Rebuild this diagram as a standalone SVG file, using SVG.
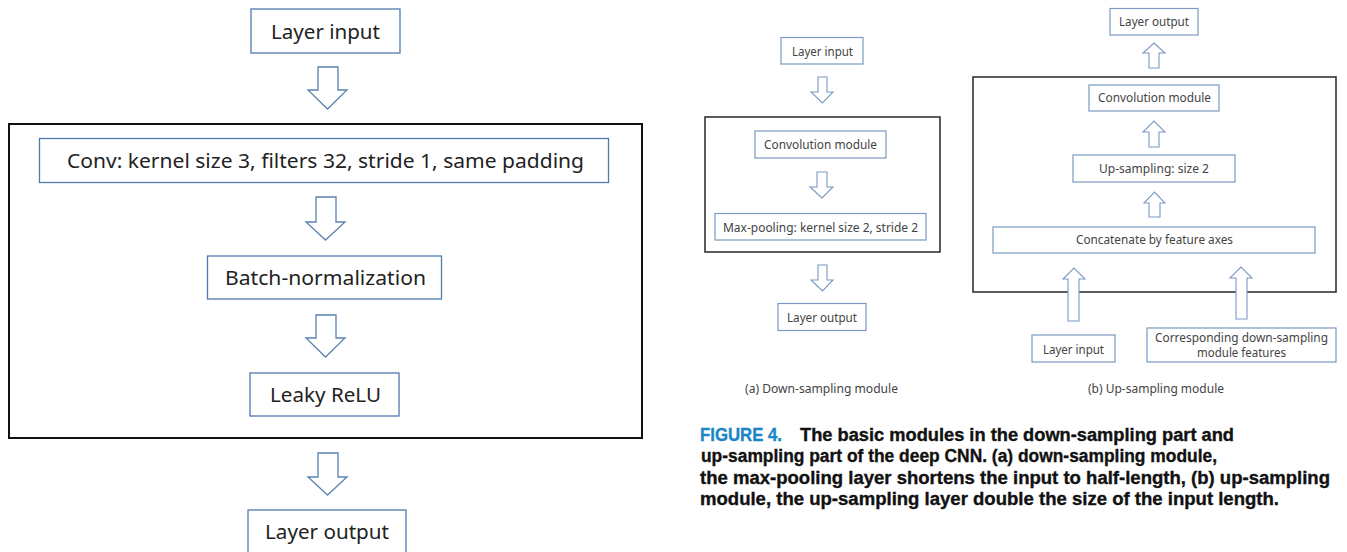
<svg xmlns="http://www.w3.org/2000/svg" width="1347" height="552" viewBox="0 0 1347 552">
<style>
.bg{fill:#ffffff}
.lbox{fill:#ffffff;stroke:#4f7aab;stroke-width:1.3}
.rbox{fill:#ffffff;stroke:#7b99c2;stroke-width:1.2}
.outerL{fill:none;stroke:#111111;stroke-width:2}
.outerR{fill:none;stroke:#333333;stroke-width:1.6}
.arrL{fill:#ffffff;stroke:#5a82b2;stroke-width:1.3;stroke-linejoin:miter}
.arrR{fill:#ffffff;stroke:#7b99c2;stroke-width:1.1;stroke-linejoin:miter}
.lt{font-family:"Noto Sans","Open Sans","DejaVu Sans",sans-serif;font-size:20px;fill:#222222;text-anchor:middle}
.rt{font-family:"Noto Sans","Open Sans","DejaVu Sans",sans-serif;font-size:12px;fill:#444444;text-anchor:middle}
.cap{font-family:"Liberation Sans Narrow","Liberation Sans",Arial,sans-serif;font-size:18px;font-weight:bold;fill:#111111;stroke:#111111;stroke-width:0.35}
.capb{fill:#1b86c6;stroke:#1b86c6}
</style>
<rect class="bg" x="0" y="0" width="1347" height="552"/>

<g id="left-module">
  <rect class="outerL" x="9" y="124" width="633" height="314"/>
</g>
<g id="left-layer-input"><rect class="lbox" x="251" y="9" width="149" height="44"/><text class="lt" x="325.5" y="39" textLength="109" lengthAdjust="spacingAndGlyphs">Layer input</text></g>
<g id="left-conv"><rect class="lbox" x="39.5" y="138.5" width="569" height="44"/><text class="lt" x="325.5" y="168" textLength="517" lengthAdjust="spacingAndGlyphs">Conv: kernel size 3, filters 32, stride 1, same padding</text></g>
<g id="left-bn"><rect class="lbox" x="207.5" y="256" width="234" height="43"/><text class="lt" x="325.5" y="285" textLength="201" lengthAdjust="spacingAndGlyphs">Batch-normalization</text></g>
<g id="left-relu"><rect class="lbox" x="250" y="373" width="149" height="43"/><text class="lt" x="325.5" y="402" textLength="111" lengthAdjust="spacingAndGlyphs">Leaky ReLU</text></g>
<g id="left-layer-output"><rect class="lbox" x="248" y="510" width="158" height="50"/><text class="lt" x="327" y="539" textLength="124" lengthAdjust="spacingAndGlyphs">Layer output</text></g>

<g id="down-module">
  <rect class="outerR" x="705" y="117" width="235" height="135"/>
</g>
<g id="a-layer-input"><rect class="rbox" x="781" y="37.5" width="82" height="26.5"/><text class="rt" x="822.5" y="56" textLength="61" lengthAdjust="spacingAndGlyphs">Layer input</text></g>
<g id="a-conv"><rect class="rbox" x="755" y="131" width="131" height="27"/><text class="rt" x="820.5" y="149" textLength="113" lengthAdjust="spacingAndGlyphs">Convolution module</text></g>
<g id="a-maxpool"><rect class="rbox" x="715" y="213.5" width="211" height="26.5"/><text class="rt" x="820.5" y="232" textLength="195" lengthAdjust="spacingAndGlyphs">Max-pooling: kernel size 2, stride 2</text></g>
<g id="a-layer-output"><rect class="rbox" x="778" y="303.5" width="88" height="27"/><text class="rt" x="822" y="322" textLength="70" lengthAdjust="spacingAndGlyphs">Layer output</text></g>
<text class="rt" x="821.5" y="393" textLength="153" lengthAdjust="spacingAndGlyphs">(a) Down-sampling module</text>

<g id="up-module">
  <rect class="outerR" x="973" y="77" width="363" height="215"/>
</g>
<g id="b-layer-output"><rect class="rbox" x="1110" y="8.5" width="88" height="26.5"/><text class="rt" x="1154" y="26" textLength="70" lengthAdjust="spacingAndGlyphs">Layer output</text></g>
<g id="b-conv"><rect class="rbox" x="1089" y="85" width="130" height="26"/><text class="rt" x="1154.5" y="102" textLength="113" lengthAdjust="spacingAndGlyphs">Convolution module</text></g>
<g id="b-upsample"><rect class="rbox" x="1073" y="155" width="162" height="27"/><text class="rt" x="1154" y="173" textLength="110" lengthAdjust="spacingAndGlyphs">Up-sampling: size 2</text></g>
<g id="b-concat"><rect class="rbox" x="993" y="227" width="322" height="26"/><text class="rt" x="1154.5" y="244" textLength="157" lengthAdjust="spacingAndGlyphs">Concatenate by feature axes</text></g>
<g id="b-layer-input"><rect class="rbox" x="1032" y="335" width="83" height="27"/><text class="rt" x="1073.5" y="354" textLength="61" lengthAdjust="spacingAndGlyphs">Layer input</text></g>
<g id="b-corresponding"><rect class="rbox" x="1147" y="328" width="189" height="34"/><text class="rt" x="1241.5" y="342" textLength="173" lengthAdjust="spacingAndGlyphs">Corresponding down-sampling</text><text class="rt" x="1241.5" y="357" textLength="89" lengthAdjust="spacingAndGlyphs">module features</text></g>
<text class="rt" x="1156" y="393" textLength="136" lengthAdjust="spacingAndGlyphs">(b) Up-sampling module</text>

<g id="connectors">
  <path class="arrL" d="M318,67 H338 V90 H347 L327.5,109 L308,90 H318 Z"/>
  <path class="arrL" d="M316,197 H336 V222 H345 L325.5,240 L306,222 H316 Z"/>
  <path class="arrL" d="M316,315 H336 V338 H345 L325.5,357 L306,338 H316 Z"/>
  <path class="arrL" d="M318,453 H338 V477 H347 L327.5,495 L308,477 H318 Z"/>

  <path class="arrR" d="M818,77 H827 V92 H833 L822.5,103 L811,92 H818 Z"/>
  <path class="arrR" d="M817,172 H827 V187 H833 L822,198 L810,187 H817 Z"/>
  <path class="arrR" d="M818,265 H827 V280 H833 L822.5,291 L811,280 H818 Z"/>

  <path class="arrR" d="M1149,68 H1159 V53 H1165 L1154,43 L1143,53 H1149 Z"/>
  <path class="arrR" d="M1149,147 H1159 V132 H1165 L1154,121 L1143,132 H1149 Z"/>
  <path class="arrR" d="M1149,217 H1160 V203 H1165 L1154.5,192 L1144,203 H1149 Z"/>
  <path class="arrR" d="M1068,321 H1079 V279 H1085 L1074,268 L1063,279 H1068 Z"/>
  <path class="arrR" d="M1236,319 H1247 V278 H1252 L1241,267 L1230,278 H1236 Z"/>
</g>

<g id="caption">
  <text class="cap capb" x="700" y="441" textLength="82" lengthAdjust="spacingAndGlyphs">FIGURE 4.</text>
  <text class="cap" x="800" y="441" textLength="434" lengthAdjust="spacingAndGlyphs">The basic modules in the down-sampling part and</text>
  <text class="cap" x="701" y="462" textLength="516" lengthAdjust="spacingAndGlyphs">up-sampling part of the deep CNN. (a) down-sampling module,</text>
  <text class="cap" x="700" y="484" textLength="630" lengthAdjust="spacingAndGlyphs">the max-pooling layer shortens the input to half-length, (b) up-sampling</text>
  <text class="cap" x="700" y="505" textLength="579" lengthAdjust="spacingAndGlyphs">module, the up-sampling layer double the size of the input length.</text>
</g>
</svg>
